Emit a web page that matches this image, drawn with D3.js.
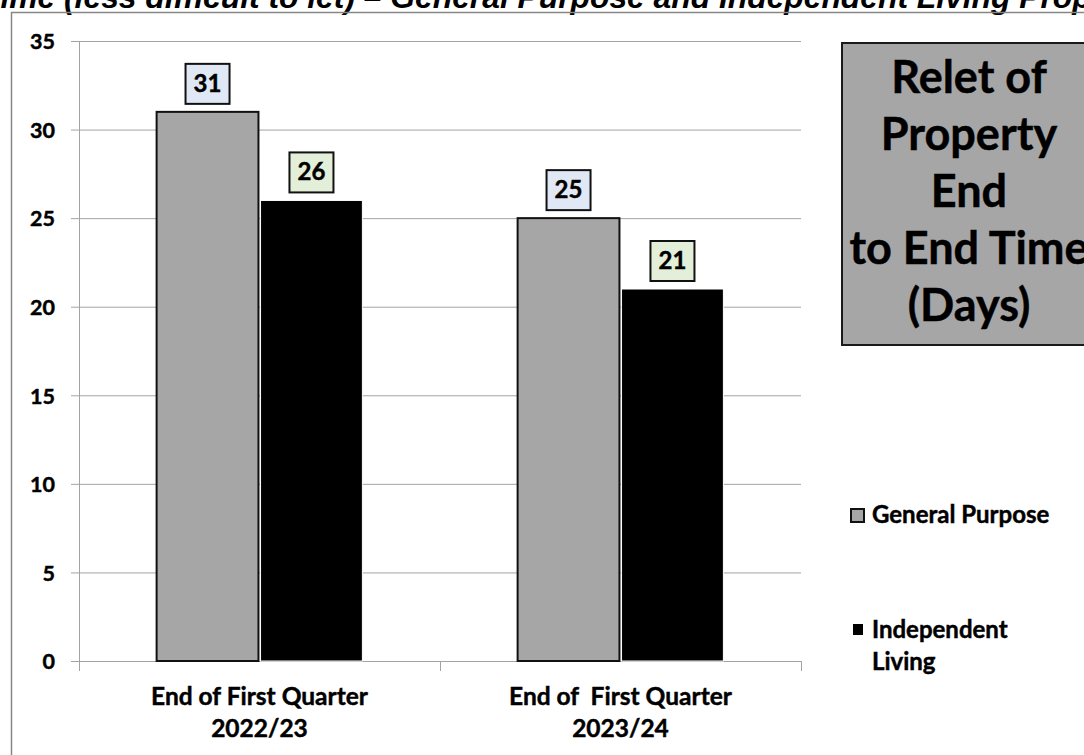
<!DOCTYPE html>
<html>
<head>
<meta charset="utf-8">
<script src="https://cdn.jsdelivr.net/npm/d3@7/dist/d3.min.js"></script>
<style>
  html, body { margin: 0; padding: 0; background: #ffffff; }
  svg { display: block; }
  text { font-family: Lato, "Open Sans", sans-serif; font-weight: bold; fill: #000; }
  text.heavy { stroke: #000; stroke-width: 0.45px; }
</style>
</head>
<body>
<svg id="chart" width="1084" height="755"></svg>
<script>
// Relet times, end of first quarter, by property type
const categories = ["End of First Quarter|2022/23", "End of  First Quarter|2023/24"];
const seriesNames = ["General Purpose", "Independent Living"];
const generalPurpose = [31, 25];
const independentLiving = [26, 21];
const yTicks = [0, 5, 10, 15, 20, 25, 30, 35];
const titleText = "Time (less difficult to let) \u2013 General Purpose and Independent Living Properties";
const panelLines = ["Relet of", "Property", "End", "to End Time", "(Days)"];

const seriesValues = [generalPurpose, independentLiving];
const barFill = ["#a6a6a6", "#000000"];
const barStroke = ["#111111", "#ffffff"];
const labelFill = ["#dfe8f4", "#e3efd9"];

const svg = d3.select("#chart");

// Page title, running off the left and right edges
const titleFont = "'Liberation Sans', Arial, sans-serif";
const probe = svg.append("text")
  .style("font-family", titleFont)
  .style("font-style", "italic").style("font-weight", "bold")
  .style("font-size", "100px")
  .text("ime (less difficult to let) \u2013 General Purpose and");
const fs = 100 * 710 / probe.node().getComputedTextLength();
probe.style("font-size", fs + "px").text("T");
const tWidth = probe.node().getComputedTextLength();
probe.remove();
svg.append("text")
  .style("font-family", titleFont)
  .style("font-style", "italic")
  .style("font-weight", "bold")
  .style("font-size", fs + "px")
  .attr("x", -tWidth + 1)
  .attr("y", 8)
  .text(titleText);

// Outer frame
svg.append("path")
  .attr("d", "M11.5,760 V12.5 H1090")
  .attr("fill", "none")
  .attr("stroke", "#868686")
  .attr("stroke-width", 1.5);

// Scales
const plot = { left: 79, right: 801, top: 41, bottom: 661 };
const y = d3.scaleLinear().domain([0, 35]).range([plot.bottom, plot.top]);
const x0 = d3.scaleBand().domain(categories)
  .range([plot.left, plot.right])
  .paddingInner(0.43).paddingOuter(0.215);
const x1 = d3.scaleBand().domain(d3.range(seriesNames.length))
  .range([0, x0.bandwidth()])
  .paddingInner(0.02);

// Gridlines
svg.append("g")
  .attr("transform", `translate(${plot.left},0)`)
  .call(d3.axisLeft(y).tickValues(yTicks.filter(d => d > 0))
    .tickSize(-(plot.right - plot.left)).tickFormat(""))
  .call(g => g.select(".domain").remove())
  .call(g => g.selectAll("line").attr("stroke", "#a3a3a3").attr("stroke-width", 1));

// Y axis
const yAxis = svg.append("g")
  .attr("transform", `translate(${plot.left},0)`)
  .call(d3.axisLeft(y).tickValues(yTicks).tickSize(8).tickPadding(16).tickSizeOuter(0));
yAxis.select(".domain").attr("stroke", "#a3a3a3").attr("d", `M0.5,${plot.top}V${plot.bottom + 10}`);
yAxis.selectAll("line").attr("stroke", "#a3a3a3");
yAxis.selectAll("text")
  .attr("class", "heavy")
  .style("font-size", "21.5px").style("font-family", "Lato, sans-serif")
  .attr("dy", "0.36em");

// X axis with ticks between categories
const step = x0.step();
const boundaries = categories.map(c => x0(c) - (step - x0.bandwidth()) / 2).concat([plot.right]);
const xAxis = svg.append("g").attr("transform", `translate(0,${plot.bottom})`);
xAxis.append("line").attr("x1", plot.left - 8).attr("x2", plot.right).attr("y1", 0.5).attr("y2", 0.5)
  .attr("stroke", "#a3a3a3");
xAxis.selectAll("line.tick").data(boundaries).join("line")
  .attr("class", "tick")
  .attr("x1", d => Math.round(d) + 0.5).attr("x2", d => Math.round(d) + 0.5)
  .attr("y1", 0).attr("y2", 10).attr("stroke", "#a3a3a3");

// Category labels
categories.forEach(c => {
  const lines = c.split("|");
  const t = svg.append("text")
    .attr("class", "heavy")
    .attr("text-anchor", "middle")
    .style("font-size", "24.5px")
    .style("white-space", "pre");
  lines.forEach((ln, i) => {
    t.append("tspan").attr("x", x0(c) + x0.bandwidth() / 2)
      .attr("y", plot.bottom + 44 + i * 32).text(ln);
  });
});

// Bars
const groups = svg.append("g").selectAll("g")
  .data(categories).join("g")
  .attr("transform", c => `translate(${x0(c)},0)`);

seriesNames.forEach((s, si) => {
  groups.append("rect")
    .attr("x", (c, ci) => x1(si))
    .attr("width", x1.bandwidth())
    .attr("y", (c, ci) => y(seriesValues[si][ci]))
    .attr("height", (c, ci) => y(0) - y(seriesValues[si][ci]))
    .attr("fill", barFill[si])
    .attr("stroke", barStroke[si])
    .attr("stroke-width", si === 0 ? 2 : 1);
});

// Value labels in boxes
seriesNames.forEach((s, si) => {
  const lab = groups.append("g")
    .attr("transform", (c, ci) =>
      `translate(${x1(si) + x1.bandwidth() / 2},${y(seriesValues[si][ci]) - 8})`);
  lab.append("rect")
    .attr("x", -22).attr("y", -40).attr("width", 44).attr("height", 40)
    .attr("fill", labelFill[si]).attr("stroke", "#111").attr("stroke-width", 2);
  lab.append("text")
    .attr("class", "heavy")
    .attr("text-anchor", "middle")
    .attr("y", -12)
    .style("font-size", "24px")
    .text((c, ci) => seriesValues[si][ci]);
});

// Title panel
const panel = svg.append("g");
panel.append("rect")
  .attr("x", 842).attr("y", 43).attr("width", 260).attr("height", 302)
  .attr("fill", "#a6a6a6").attr("stroke", "#1a1a1a").attr("stroke-width", 2);
panel.selectAll("text").data(panelLines).join("text")
  .attr("class", "heavy")
  .attr("x", 969).attr("y", (d, i) => 93 + i * 57)
  .attr("text-anchor", "middle")
  .style("font-size", "45px")
  .text(d => d);

// Legend
const legend = svg.append("g");
legend.append("rect").attr("x", 851).attr("y", 509).attr("width", 13).attr("height", 13)
  .attr("fill", barFill[0]).attr("stroke", "#111").attr("stroke-width", 2);
legend.append("text").attr("class", "heavy")
  .attr("x", 872).attr("y", 523).style("font-size", "24px").text(seriesNames[0]);
legend.append("rect").attr("x", 853).attr("y", 624).attr("width", 10).attr("height", 11)
  .attr("fill", barFill[1]);
const legText = legend.append("text").attr("class", "heavy").style("font-size", "24px");
seriesNames[1].split(" ").forEach((w, i) => {
  legText.append("tspan").attr("x", 872).attr("y", 638 + i * 32).text(w);
});
</script>
</body>
</html>
